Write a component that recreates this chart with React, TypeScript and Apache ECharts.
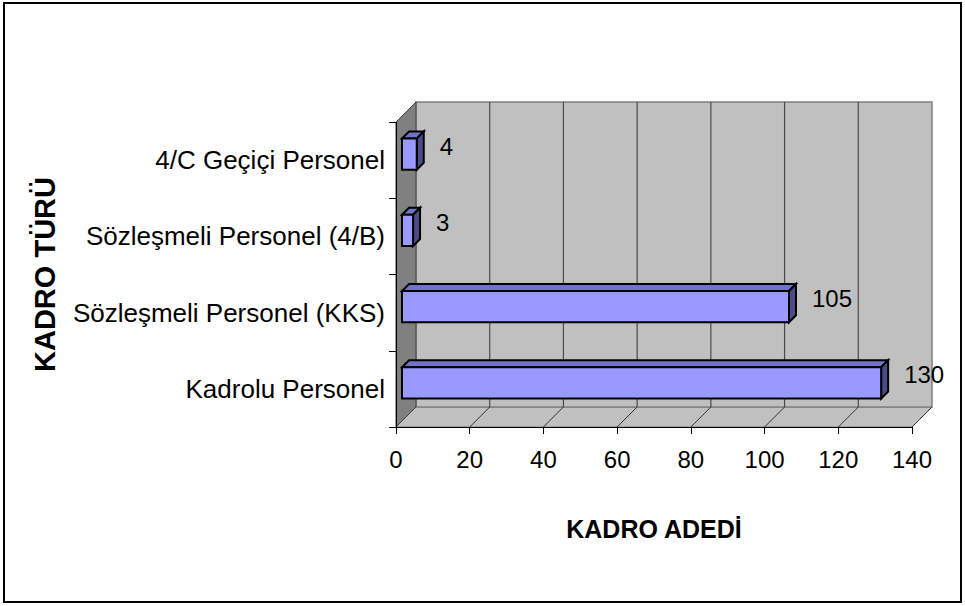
import React, { useEffect, useRef } from "react";
import * as echarts from "echarts";

const categories = [
  "Kadrolu Personel",
  "Sözleşmeli Personel (KKS)",
  "Sözleşmeli Personel (4/B)",
  "4/C Geçiçi Personel",
];
const values = [130, 105, 3, 4];
const xTicks = [0, 20, 40, 60, 80, 100, 120, 140];
const xAxisTitle = "KADRO ADEDİ";
const yAxisTitle = "KADRO TÜRÜ";

const FONT = "'Liberation Sans', Arial, sans-serif";
const DEPTH = 20;
const BAR_FRONT = 6;
const BAR_DEPTH = 7;

export default function App() {
  const ref = useRef<HTMLDivElement>(null);
  useEffect(() => {
    if (!ref.current) return;
    const chart = echarts.init(ref.current, undefined, { renderer: "svg" });
    const option: any = {
      animation: false,
      backgroundColor: "#ffffff",
      graphic: [
        {
          type: "rect",
          shape: { x: 4, y: 3, width: 957, height: 599 },
          style: { fill: "none", stroke: "#000", lineWidth: 2 },
          z: 100,
        },
      ],
      grid: {
        left: 396,
        top: 122,
        right: 53,
        bottom: 179,
        containLabel: false,
        outerBoundsMode: "none",
      },
      xAxis: {
        type: "value",
        min: 0,
        max: 140,
        interval: 20,
        z: 10,
        axisLine: { show: true, lineStyle: { color: "#000", width: 1 } },
        axisTick: { show: true, length: 7, lineStyle: { color: "#000", width: 1 } },
        axisLabel: { fontSize: 24, fontFamily: FONT, color: "#000", margin: 20 },
        splitLine: { show: false },
        name: xAxisTitle,
        nameLocation: "middle",
        nameGap: 89,
        nameMoveOverlap: false,
        nameTextStyle: { fontSize: 25, fontWeight: "bold", fontFamily: FONT, color: "#000" },
      },
      yAxis: {
        type: "category",
        data: categories,
        z: 10,
        axisLine: { show: true, lineStyle: { color: "#000", width: 1 } },
        axisTick: { show: true, length: 7, lineStyle: { color: "#000", width: 1 } },
        axisLabel: { fontSize: 26, fontFamily: FONT, color: "#000", margin: 11 },
        splitLine: { show: false },
        name: yAxisTitle,
        nameLocation: "middle",
        nameRotate: 90,
        nameGap: 337,
        nameMoveOverlap: false,
        nameTextStyle: { fontSize: 29, fontWeight: "bold", fontFamily: FONT, color: "#000" },
      },
      series: [
        {
          type: "custom",
          name: "walls",
          z: 1,
          silent: true,
          data: [[0, 0]],
          encode: { x: 0, y: 1 },
          renderItem: (params: any, api: any) => {
            const cs = params.coordSys;
            const left = cs.x;
            const top = cs.y;
            const right = cs.x + cs.width;
            const bottom = cs.y + cs.height;
            const D = DEPTH;
            const children: any[] = [
              {
                type: "polygon",
                shape: { points: [[left, bottom], [right, bottom], [right + D, bottom - D], [left + D, bottom - D]] },
                style: { fill: "#c0c0c0", stroke: "#808080", lineWidth: 1 },
              },
              {
                type: "rect",
                shape: { x: left + D, y: top - D, width: cs.width, height: cs.height },
                style: { fill: "#c0c0c0", stroke: "#808080", lineWidth: 1.5 },
              },
              {
                type: "polygon",
                shape: { points: [[left, top], [left + D, top - D], [left + D, bottom - D], [left, bottom]] },
                style: { fill: "#808080", stroke: "#404040", lineWidth: 1 },
              },
            ];
            xTicks.forEach((t) => {
              const x = api.coord([t, 0])[0];
              if (t > 0 && t < 140) {
                children.push({
                  type: "line",
                  shape: { x1: x + D, y1: top - D, x2: x + D, y2: bottom - D },
                  style: { stroke: "#4a4a4a", lineWidth: 1.2 },
                });
              }
              if (t > 0) {
                children.push({
                  type: "line",
                  shape: { x1: x, y1: bottom, x2: x + D, y2: bottom - D },
                  style: { stroke: "#333", lineWidth: 1 },
                });
              }
            });
            return { type: "group", children };
          },
        },
        {
          type: "custom",
          name: "KADRO ADEDİ",
          z: 3,
          data: values.map((v, i) => [v, i]),
          encode: { x: 0, y: 1 },
          renderItem: (params: any, api: any) => {
            const v = api.value(0);
            const c = api.value(1);
            const start = api.coord([0, c]);
            const end = api.coord([v, c]);
            const band = api.size([0, 1])[1];
            const h = band * 0.41;
            const x0 = start[0] + BAR_FRONT;
            const x1 = end[0] + BAR_FRONT;
            const yc = start[1] - BAR_FRONT;
            const yt = yc - h / 2;
            const yb = yc + h / 2;
            const d = BAR_DEPTH;
            const stroke = { stroke: "#000", lineWidth: 2, lineJoin: "miter" };
            return {
              type: "group",
              children: [
                {
                  type: "polygon",
                  shape: { points: [[x0, yt], [x1, yt], [x1 + d, yt - d], [x0 + d, yt - d]] },
                  style: { fill: "#7272c6", ...stroke },
                },
                {
                  type: "polygon",
                  shape: { points: [[x1, yt], [x1 + d, yt - d], [x1 + d, yb - d], [x1, yb]] },
                  style: { fill: "#4b4b86", ...stroke },
                },
                {
                  type: "rect",
                  shape: { x: x0, y: yt, width: x1 - x0, height: h },
                  style: { fill: "#9999ff", ...stroke },
                },
                {
                  type: "text",
                  style: {
                    text: String(v),
                    x: x1 + 23,
                    y: yc - 8,
                    fill: "#000",
                    fontSize: 24,
                    fontFamily: FONT,
                    align: "left",
                    verticalAlign: "middle",
                  },
                },
              ],
            };
          },
        },
      ],
    };
    chart.setOption(option);
    return () => chart.dispose();
  }, []);
  return (
    <div
      ref={ref}
      style={{ position: "absolute", left: 0, top: 0, width: 965, height: 606, background: "#fff" }}
    />
  );
}
